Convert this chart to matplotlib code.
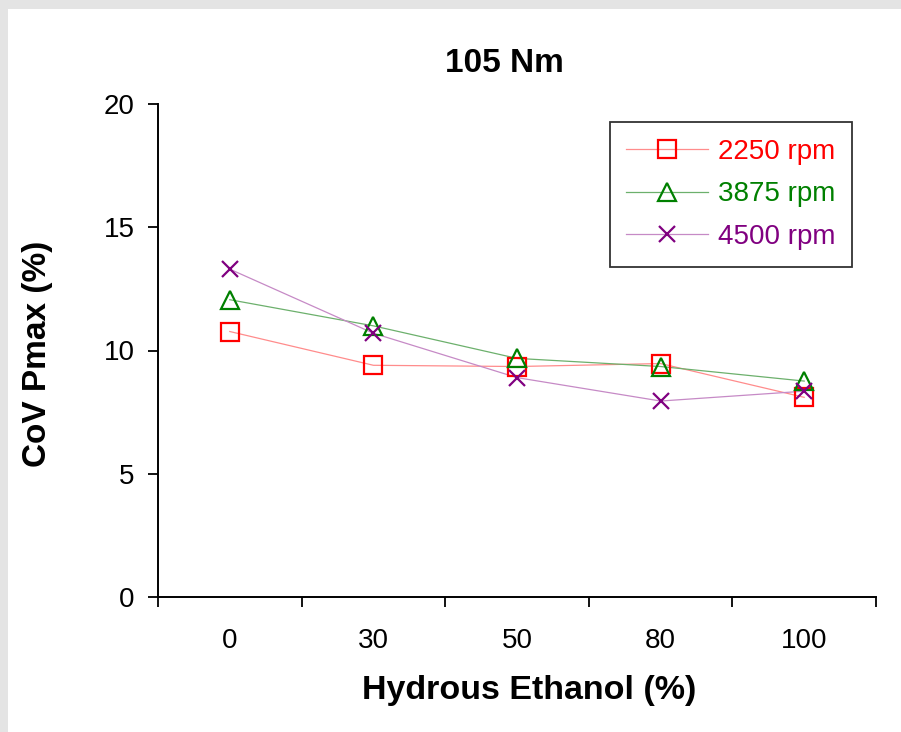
import matplotlib
matplotlib.use("Agg")
import matplotlib.pyplot as plt
from matplotlib.patches import Rectangle
from matplotlib.lines import Line2D

plt.rcParams['font.family'] = ['Liberation Sans', 'DejaVu Sans']

categories = ['0', '30', '50', '80', '100']
rpm_2250 = [10.77, 9.40, 9.35, 9.47, 8.10]
rpm_3875 = [12.06, 11.00, 9.68, 9.35, 8.76]
rpm_4500 = [13.30, 10.70, 8.90, 7.95, 8.35]

# name, values, marker, marker colour, line colour
series = [
    ('2250 rpm', rpm_2250, 's', 'red', '#ff8c8c'),
    ('3875 rpm', rpm_3875, '^', 'green', '#6cb06c'),
    ('4500 rpm', rpm_4500, 'x', 'purple', '#c68ac6'),
]

fig = plt.figure(figsize=(9.01, 7.32), dpi=100)
fig.patch.set_facecolor('#e4e4e4')
# white panel inside the grey border
fig.patches.append(Rectangle((8 / 901, 0), 1, 1 - 9 / 732, transform=fig.transFigure,
                             facecolor='white', edgecolor='none', zorder=-5))

ax = fig.add_axes([158 / 901, 1 - 597 / 732, 718 / 901, 493 / 732])
ax.set_facecolor('none')

x = list(range(len(categories)))
for label, vals, mk, col, lcol in series:
    ax.plot(x, vals, color=lcol, lw=0.9, zorder=2)
    ax.plot(x, vals, linestyle='none', marker=mk, markersize=12.5 if mk != 'x' else 11.5,
            markerfacecolor='none', markeredgecolor=col, markeredgewidth=1.6, zorder=3)

ax.set_xlim(-0.5, 4.5)
ax.set_ylim(0, 20)
ax.set_yticks([0, 5, 10, 15, 20])

# tick marks at category boundaries, labels at centres
ax.set_xticks([i - 0.5 for i in range(len(categories) + 1)])
ax.set_xticklabels([])
ax.set_xticks(x, minor=True)
ax.set_xticklabels(categories, minor=True)
ax.tick_params(axis='x', which='major', direction='out', length=7, width=1.3)
ax.tick_params(axis='x', which='minor', length=0, pad=22, labelsize=20)
ax.tick_params(axis='y', direction='out', length=7, width=1.3, labelsize=20, pad=10)

for s in ['top', 'right']:
    ax.spines[s].set_visible(False)
for s in ['left', 'bottom']:
    ax.spines[s].set_linewidth(1.4)

# legend
leg_handles = [Line2D([0], [0], color=lc, lw=0.9, marker=m,
                      markersize=12.5 if m != 'x' else 11.5, markerfacecolor='none',
                      markeredgecolor=c, markeredgewidth=1.6) for _, _, m, c, lc in series]
leg = ax.legend(leg_handles, [s[0] for s in series], loc='upper right',
                bbox_to_anchor=(0.9666, 0.9635), borderaxespad=0, fontsize=20,
                frameon=True, fancybox=False, handlelength=2.95, handletextpad=0.35,
                labelspacing=0.6, borderpad=0.6)
leg.get_frame().set_edgecolor('black')
leg.get_frame().set_linewidth(1.3)
for t, s in zip(leg.get_texts(), series):
    t.set_color(s[3])

fig.text(504 / 901, 1 - 63 / 732, '105 Nm', ha='center', va='center',
         fontsize=24, fontweight='bold')
fig.text(529 / 901, 1 - 690 / 732, 'Hydrous Ethanol (%)', ha='center', va='center',
         fontsize=24.5, fontweight='bold')
fig.text(38 / 901, 1 - 354 / 732, 'CoV Pmax (%)', ha='center', va='center',
         rotation=90, fontsize=24, fontweight='bold')

fig.savefig('out.png', dpi=100, facecolor=fig.get_facecolor())
